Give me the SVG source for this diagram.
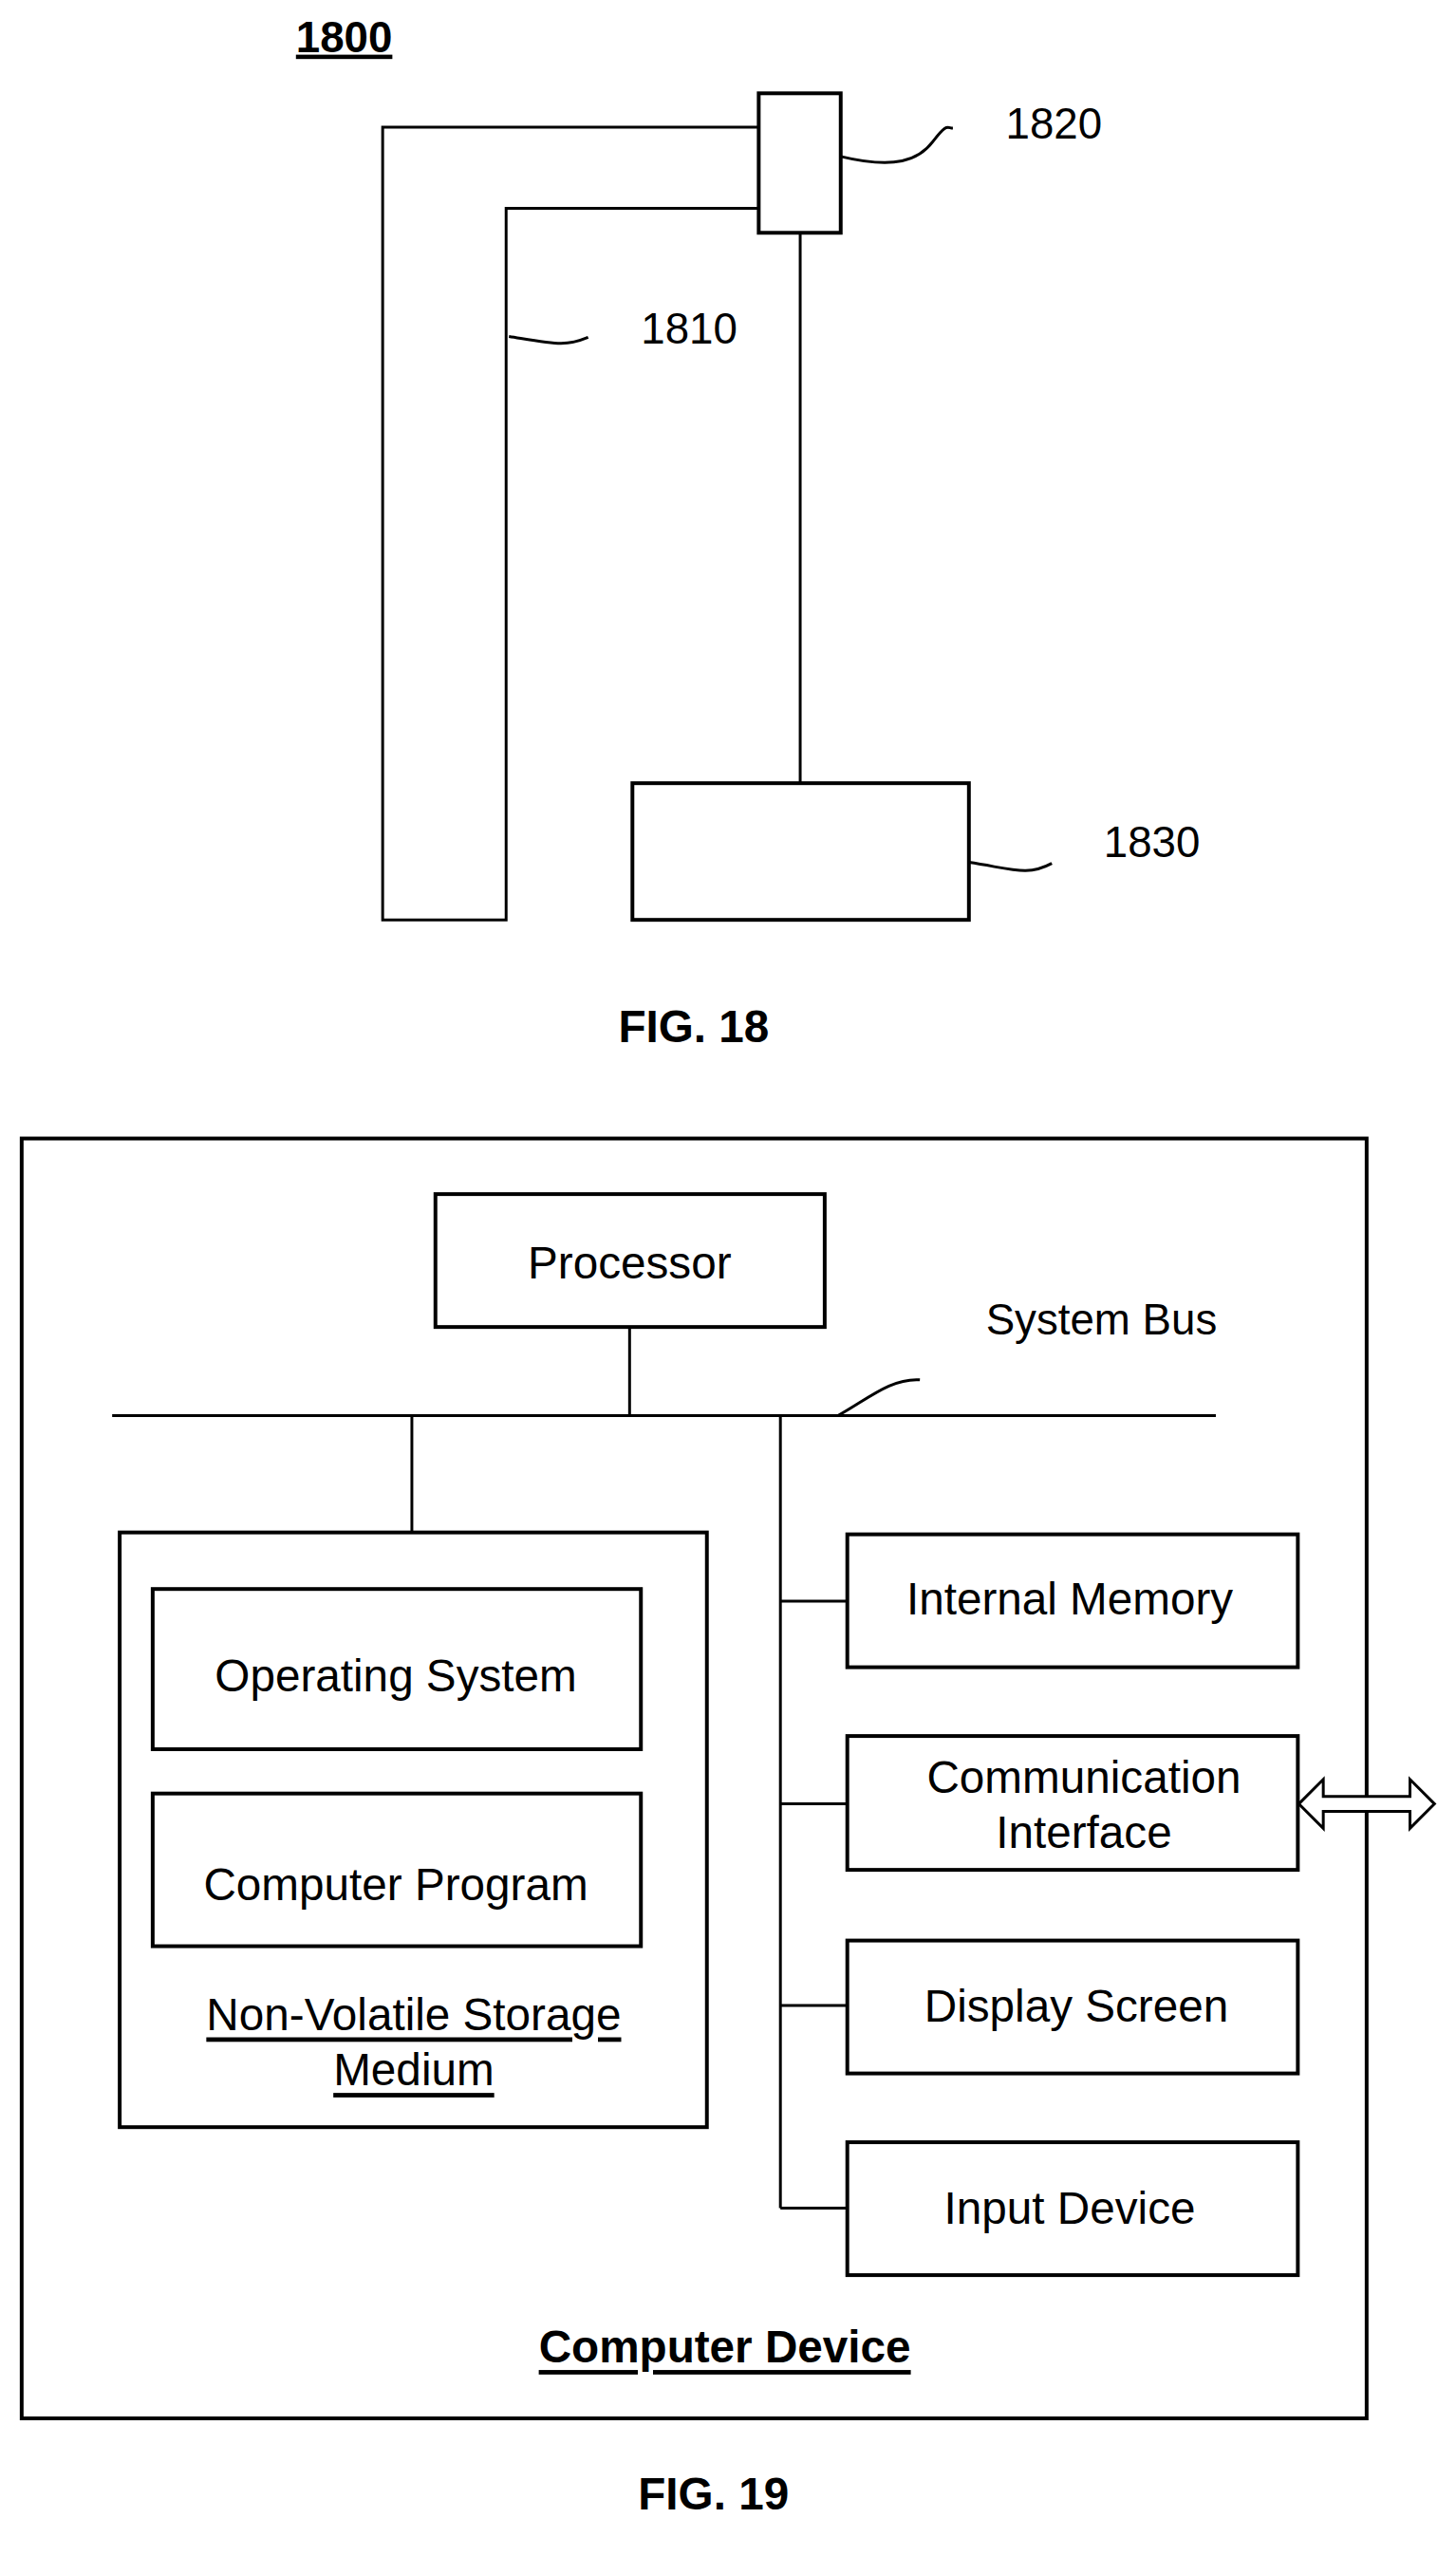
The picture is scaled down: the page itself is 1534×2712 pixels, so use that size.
<svg xmlns="http://www.w3.org/2000/svg" width="1534" height="2712" viewBox="0 0 1534 2712">
<style>
.s{fill:none;stroke:#000;stroke-width:3}
.b{fill:#fff;stroke:#000;stroke-width:4}
.o{fill:none;stroke:#000;stroke-width:4}
.t{font-family:"Liberation Sans",Arial,sans-serif;font-size:48px;fill:#000;text-anchor:middle;dominant-baseline:central}
.n{font-family:"Liberation Sans",Arial,sans-serif;font-size:46px;fill:#000}
.bd{font-weight:bold}
</style>
<rect width="1534" height="2712" fill="#fff"/>
<g transform="scale(0.993)">
<text x="314" y="55" class="n bd" text-decoration="underline">1800</text>
<g id="n1810"><path class="s" d="M805 135 H406 V976 H537 V221 H805"/></g>
<g id="n1820"><rect class="b" x="805" y="99" width="87" height="148" stroke-width="3"/></g>
<g id="n1830"><rect class="b" x="671" y="831" width="357" height="145" stroke-width="3"/></g>
<g id="device"><rect class="o" x="23" y="1208" width="1427" height="1358"/>
<text x="769" y="2490" class="t bd" text-decoration="underline">Computer Device</text></g>
<g id="connectors">
<path class="s" d="M849 247 V831"/>
<path class="s" d="M892 166 C950 180 975 170 990 150 S1005 136 1011 136"/>
<path class="s" d="M540 357 C590 365 600 368 624 358"/>
<path class="s" d="M1028 915 C1075 922 1090 930 1116 916"/>
<path class="s" d="M119 1502 H1290"/>
<path class="s" d="M668 1408 V1502"/>
<path class="s" d="M889 1502 C920 1485 945 1462 976 1464"/>
<path class="s" d="M437 1502 V1626"/>
<path class="s" d="M828 1502 V2343 M828 1699 H899 M828 1914 H899 M828 2128 H899 M828 2343 H899"/>
<path d="M1378 1914 L1404 1888 V1906 H1496 V1888 L1522 1914 L1496 1940 V1922 H1404 V1940 Z" fill="#fff" stroke="#000" stroke-width="3"/>
</g>
<text x="1067" y="131" class="n" dominant-baseline="central">1820</text>
<text x="680" y="349" class="n" dominant-baseline="central">1810</text>
<text x="1171" y="894" class="n" dominant-baseline="central">1830</text>
<text x="736" y="1089" class="t bd">FIG. 18</text>
<g id="processor"><rect class="b" x="462" y="1267" width="413" height="141"/><text x="668" y="1340" class="t">Processor</text></g>
<text x="1046" y="1400" class="n" dominant-baseline="central">System Bus</text>
<g id="storage"><rect class="b" x="127" y="1626" width="623" height="631"/>
<text x="439" y="2137" class="t" text-decoration="underline">Non-Volatile Storage</text>
<text x="439" y="2196" class="t" text-decoration="underline">Medium</text></g>
<g id="os"><rect class="b" x="162" y="1686" width="518" height="170"/><text x="420" y="1778" class="t">Operating System</text></g>
<g id="cp"><rect class="b" x="162" y="1903" width="518" height="162"/><text x="420" y="1999" class="t">Computer Program</text></g>
<g id="im"><rect class="b" x="899" y="1628" width="478" height="141"/><text x="1135" y="1696" class="t">Internal Memory</text></g>
<g id="ci"><rect class="b" x="899" y="1842" width="478" height="142"/><text x="1150" y="1886" class="t">Communication</text><text x="1150" y="1944" class="t">Interface</text></g>
<g id="ds"><rect class="b" x="899" y="2059" width="478" height="141"/><text x="1142" y="2128" class="t">Display Screen</text></g>
<g id="id"><rect class="b" x="899" y="2273" width="478" height="141"/><text x="1135" y="2343" class="t">Input Device</text></g>
<text x="757" y="2646" class="t bd">FIG. 19</text>
</g>
</svg>
